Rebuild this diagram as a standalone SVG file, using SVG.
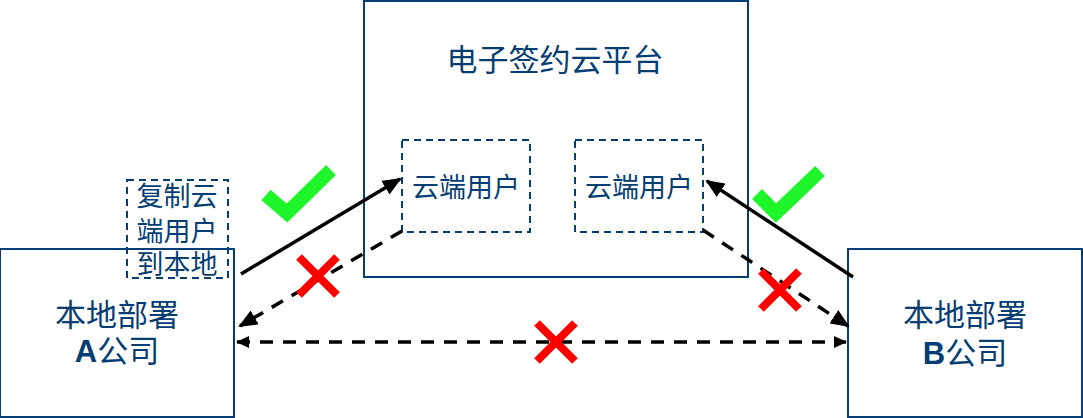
<svg xmlns="http://www.w3.org/2000/svg" width="1083" height="418" viewBox="0 0 1083 418">
<defs>
<style>
.box{fill:#fff;stroke:#063e73;stroke-width:2}
.dbox{fill:none;stroke:#063e73;stroke-width:2;stroke-dasharray:7,5}
.t{font-family:"Noto Sans CJK SC","Noto Sans CJK TC",sans-serif;fill:#063e73;text-anchor:middle}
.lat{font-family:"Liberation Sans",Arial,sans-serif;font-weight:bold}
.solid{fill:none;stroke:#000;stroke-width:3.5}
.dash{fill:none;stroke:#000;stroke-width:3.5;stroke-dasharray:13,10}
.ok{fill:none;stroke:#1ff52b;stroke-width:14;stroke-linejoin:miter}
.no{fill:none;stroke:#ff0000;stroke-width:8}
</style>
<marker id="big" markerUnits="userSpaceOnUse" markerWidth="20" markerHeight="16" viewBox="0 0 20 16" refX="17" refY="8" orient="auto-start-reverse">
<path d="M0,0 L19,8 L0,16 Z" fill="#000"/>
</marker>
<marker id="small" markerUnits="userSpaceOnUse" markerWidth="14" markerHeight="12" viewBox="0 0 14 12" refX="12" refY="6" orient="auto-start-reverse">
<path d="M0,0 L13,6 L0,12 Z" fill="#000"/>
</marker>
</defs>
<rect width="1083" height="418" fill="#fff"/>
<g id="cloud">
<rect class="box" x="364" y="1" width="384" height="276"/>
<text class="t" x="555" y="71" font-size="31">电子签约云平台</text>
</g>
<g id="cloudUserA">
<rect class="dbox" x="402" y="140" width="128" height="92"/>
<text class="t" x="466" y="197" font-size="27">云端用户</text>
</g>
<g id="cloudUserB">
<rect class="dbox" x="575" y="140" width="128" height="92"/>
<text class="t" x="639" y="197" font-size="27">云端用户</text>
</g>
<g id="companyA">
<rect class="box" x="0" y="249" width="234" height="168"/>
<text class="t" x="117" y="326" font-size="31">本地部署</text>
<text class="t" x="117" y="362" font-size="31"><tspan class="lat">A</tspan>公司</text>
</g>
<g id="companyB">
<rect class="box" x="848" y="249" width="234" height="168"/>
<text class="t" x="965" y="326" font-size="31">本地部署</text>
<text class="t" x="965" y="364" font-size="31"><tspan class="lat">B</tspan>公司</text>
</g>
<g id="copyNote">
<rect class="dbox" x="127" y="180" width="101" height="98"/>
<text class="t" x="177" y="206" font-size="27">复制云</text>
<text class="t" x="177" y="241" font-size="27">端用户</text>
<text class="t" x="177" y="274" font-size="27">到本地</text>
</g>
<g id="connectors">
<path class="solid" d="M241,274 L400,179" marker-end="url(#big)"/>
<path class="dash" d="M402,231 L240,326" marker-end="url(#big)"/>
<path class="dash" d="M237,342 L846,342" marker-start="url(#small)" marker-end="url(#small)"/>
<path class="solid" d="M853,277 L707,181" marker-end="url(#big)"/>
<path class="dash" d="M703,230 L848,326" marker-end="url(#big)"/>
</g>
<g id="marks">
<polyline class="ok" points="266,195 287,213 331,170"/>
<polyline class="ok" points="757,194 776,213 820,171"/>
<path class="no" d="M299,257 L337,295 M337,257 L299,295"/>
<path class="no" d="M537,323 L575,361 M575,323 L537,361"/>
<path class="no" d="M761,271 L799,309 M799,271 L761,309"/>
</g>
</svg>
